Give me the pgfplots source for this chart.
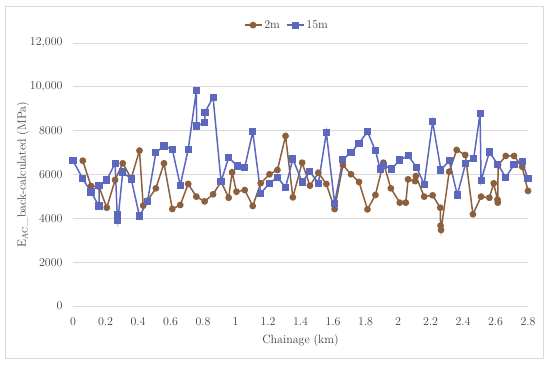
\documentclass[border=0pt]{standalone}
\usepackage{pgfplots}
\pgfplotsset{compat=1.18}
\definecolor{cbrown}{RGB}{140,96,60}
\definecolor{cblue}{RGB}{92,104,190}
\definecolor{cgrid}{RGB}{217,217,217}
\definecolor{ctext}{RGB}{64,64,64}
\begin{document}
\begin{tikzpicture}[x=1bp,y=1bp]
\path (0,0) rectangle (550,364);
\draw[cgrid,line width=0.75bp] (5,6) rectangle (543,358);
\begin{axis}[at={(73bp,58bp)}, anchor=south west,
  width=455bp, height=263bp, scale only axis,
  xmin=0, xmax=2.8, ymin=0, ymax=12000,
  scaled y ticks=false, scaled x ticks=false,
  font=\fontsize{12}{14}\selectfont,
  xtick={0,0.2,0.4,0.6,0.8,1,1.2,1.4,1.6,1.8,2,2.2,2.4,2.6,2.8},
  xticklabels={0,0.2,0.4,0.6,0.8,1,1.2,1.4,1.6,1.8,2,2.2,2.4,2.6,2.8},
  ytick={0,2000,4000,6000,8000,10000,12000},
  yticklabels={0,2000,4000,6000,8000,{10,000},{12,000}},
  major tick length=0pt,
  axis line style={draw=none},
  ymajorgrids, grid style={cgrid, line width=0.75bp},
  tick label style={text=ctext},
  xticklabel style={yshift=-8bp},
  yticklabel style={xshift=-7bp},
  xlabel={Chainage (km)},
  xlabel style={at={(axis description cs:0.5,-0.133)}, anchor=center, text=ctext},
  ylabel={E$_{\mathrm{AC}}$\_back-calculated (MPa)},
  ylabel style={at={(axis description cs:-0.110,0.5)}, anchor=center, text=ctext},
  legend style={at={(0.47,1.068)}, anchor=center, draw=none, fill=none,
    legend columns=2, text=ctext, font=\fontsize{12}{14}\selectfont,
    /tikz/every even column/.append style={column sep=4bp}},
  legend cell align=left,
  clip=true,
]
\addplot[cbrown, line width=1.5bp, mark=*, mark size=2.6bp, mark options={fill=cbrown, draw=cbrown}] coordinates {
(0.06,6630) (0.111,5475) (0.16,5445) (0.208,4485) (0.259,5750) (0.306,6510)
(0.358,5825) (0.409,7090) (0.432,4580) (0.458,4805) (0.51,5370) (0.56,6510)
(0.611,4425) (0.66,4610) (0.709,5570) (0.759,4990) (0.81,4775) (0.862,5095)
(0.911,5672) (0.958,4940) (0.979,6100) (1.006,5215) (1.057,5290) (1.106,4563)
(1.155,5600) (1.209,6010) (1.258,6205) (1.308,7757) (1.353,4960) (1.41,6540)
(1.458,5490) (1.51,6080) (1.559,5570) (1.61,4425) (1.661,6430) (1.711,6010)
(1.76,5660) (1.812,4410) (1.861,5065) (1.91,6540) (1.956,5370) (2.011,4715)
(2.048,4715) (2.062,5780) (2.105,5700) (2.11,5930) (2.161,4990) (2.213,5050)
(2.26,4485) (2.262,3665) (2.265,3470) (2.315,6130) (2.361,7120) (2.414,6890)
(2.461,4185) (2.511,4990) (2.562,4940) (2.589,5600) (2.612,4850) (2.614,4715)
(2.616,6430) (2.663,6845) (2.714,6845) (2.764,6355) (2.8,5250)
};
\addlegendentry{2m}
\addplot[cblue, line width=1.5bp, mark=square*, mark size=2.8bp, mark options={fill=cblue, draw=cblue}] coordinates {
(0,6630) (0.06,5810) (0.111,5200) (0.16,4563) (0.16,5507) (0.208,5750)
(0.259,6510) (0.272,4150) (0.276,3900) (0.306,6115) (0.358,5795) (0.409,4107)
(0.458,4760) (0.51,7000) (0.56,7300) (0.611,7150) (0.66,5507) (0.709,7150)
(0.759,9824) (0.761,8213) (0.81,8365) (0.812,8838) (0.862,9523) (0.911,5672)
(0.958,6785) (1.01,6390) (1.057,6330) (1.106,7950) (1.155,5140) (1.209,5600)
(1.258,5870) (1.308,5415) (1.353,6707) (1.41,5660) (1.458,6130) (1.51,5600)
(1.559,7910) (1.61,4685) (1.661,6690) (1.711,7000) (1.76,7425) (1.812,7950)
(1.861,7090) (1.89,6250) (1.908,6430) (1.96,6250) (2.011,6660) (2.062,6860)
(2.114,6330) (2.161,5550) (2.213,8410) (2.264,6205) (2.315,6630) (2.365,5065)
(2.416,6510) (2.466,6740) (2.505,8790) (2.511,5720) (2.562,7025) (2.614,6465)
(2.663,5870) (2.714,6450) (2.764,6585) (2.8,5800)
};
\addlegendentry{15m}
\end{axis}
\end{tikzpicture}
\end{document}
